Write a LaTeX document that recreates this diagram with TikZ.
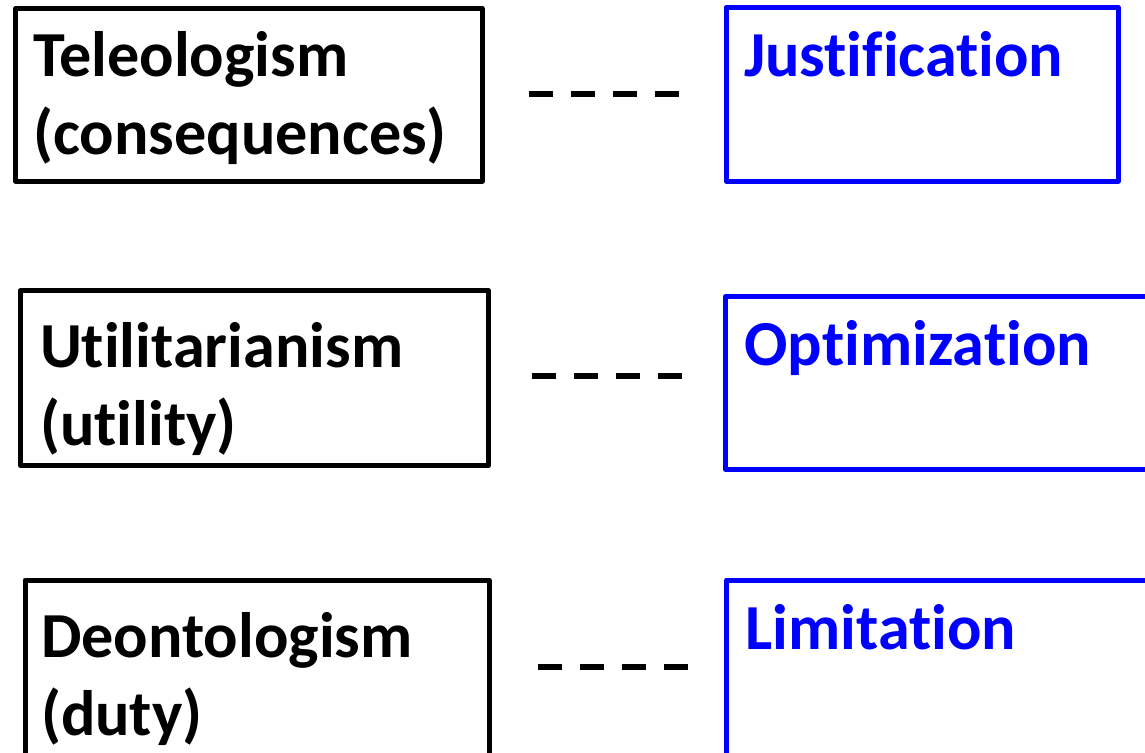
\documentclass[tikz,border=0pt]{standalone}
\usepackage{fontspec}
\setmainfont{Carlito}[RawFeature={-liga;-clig;-dlig}]
\begin{document}
\begin{tikzpicture}[x=1pt,y=-1pt,
  blackbox/.style={draw=black, line width=5pt, rectangle, line join=round, inner sep=0pt},
  bluebox/.style={draw=blue, line width=5pt, rectangle, line join=round, inner sep=0pt},
  lbl/.style={anchor=base west, inner sep=0pt, outer sep=0pt, text width=440pt, align=left,
     font=\fontsize{64.2}{78}\selectfont\bfseries},
  blbl/.style={lbl, text=blue},
  sep/.style={draw=black, line width=6pt, line cap=butt, dash pattern=on 24pt off 18pt}]
\clip (0,0) rectangle (1145,752);
\fill[white] (0,0) rectangle (1145,752);
% left boxes
\node[blackbox, minimum width=466.5pt, minimum height=172.5pt] (b1) at (248.75,94.75) {};
\node[blackbox, minimum width=468pt, minimum height=175pt] (b2) at (254.5,378) {};
\node[blackbox, minimum width=464pt, minimum height=185pt] (b3) at (257,672.5) {};
% right boxes
\node[bluebox, minimum width=392pt, minimum height=173.5pt] (r1) at (922,94.25) {};
\node[bluebox, minimum width=439.5pt, minimum height=173pt] (r2) at (945.25,383) {};
\node[bluebox, minimum width=438.5pt, minimum height=185pt] (r3) at (945.75,672.5) {};
% texts
\node[lbl] (t1) at (33,76) {Teleologism\\(consequences)};
\node[lbl] (t2) at (40,367) {Utilitarianism\\(utility)};
\node[lbl] (t3) at (41,657) {Deontologism\\(duty)};
\node[blbl] (u1) at (744,76) {Justification};
\node[blbl] (u2) at (744.5,365) {Optimization};
\node[blbl] (u3) at (745.5,649) {Limitation};
% separators
\draw[sep, shorten <=44.5pt, shorten >=44.5pt] (b1.east |- 0,94) -- (r1.west |- 0,94);
\draw[sep, shorten <=41pt, shorten >=41pt] (b2.east |- 0,376) -- (r2.west |- 0,376);
\draw[sep, shorten <=46.5pt, shorten >=36pt] (b3.east |- 0,667) -- (r3.west |- 0,667);
\end{tikzpicture}
\end{document}
